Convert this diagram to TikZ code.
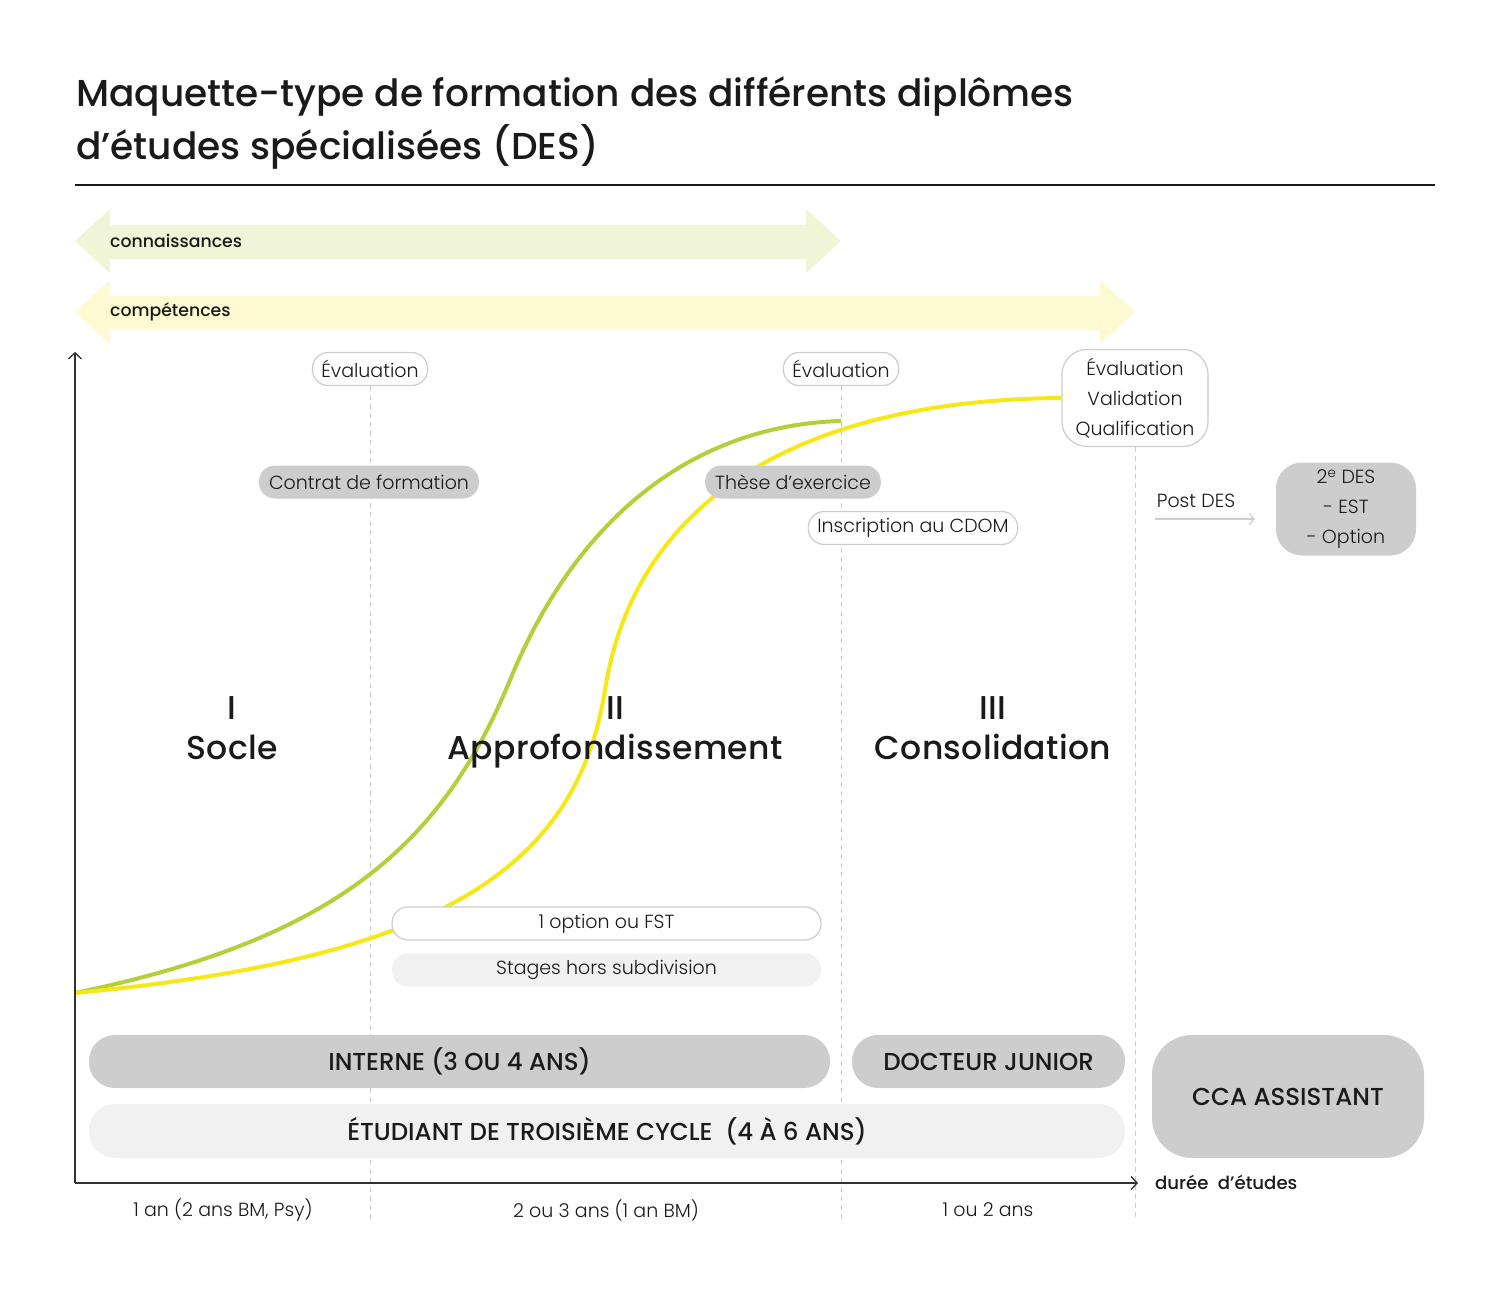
\documentclass[tikz,border=0pt]{standalone}
\usepackage{fontspec}
\setmainfont{Poppins Light}
\newfontfamily\medfont{Poppins Medium}
\newfontfamily\phasefont{Poppins Medium}[LetterSpace=1]
\usetikzlibrary{positioning,arrows.meta}
\definecolor{bandgreen}{RGB}{239,245,214}
\definecolor{bandyellow}{RGB}{253,249,208}
\definecolor{curvegreen}{RGB}{181,206,58}
\definecolor{curveyellow}{RGB}{246,232,22}
\definecolor{boxgray}{RGB}{205,205,205}
\definecolor{boxlight}{RGB}{241,241,241}
\definecolor{linegray}{RGB}{205,205,205}
\definecolor{ink}{RGB}{26,26,26}

\begin{document}
\begin{tikzpicture}[x=1pt,y=-1pt,
	txt/.style={text=ink, inner sep=0pt, font=\fontsize{19}{19}\selectfont},
	pill/.style={draw=linegray, line width=1.2pt, fill=white, rounded corners=16pt, minimum height=33pt, inner xsep=9pt, text=ink, font=\fontsize{19}{19}\selectfont},
	graypill/.style={fill=boxgray, rounded corners=16pt, minimum height=33pt, inner xsep=10pt, text=ink, font=\fontsize{19}{19}\selectfont},
	bigbox/.style={fill=boxgray, rounded corners=26pt, minimum height=53pt, text=ink, font=\medfont\fontsize{24.5}{24.5}\selectfont},
	phase/.style={anchor=base, text=ink, inner sep=0pt, font=\phasefont\fontsize{33}{33}\selectfont},
	guide/.style={linegray, line width=1pt, dash pattern=on 5pt off 4pt},
	axis/.style={ink!90, line width=1.3pt, -{Straight Barb[length=6pt, width=13pt]}},
	curve/.style={line width=4pt}]
	\useasboundingbox (0,0) rectangle (1510,1300);
	
	\node[txt, anchor=base west, font=\medfont\fontsize{37.5}{37.5}\selectfont] (title1) at (76,107) {Maquette-type de formation des différents diplômes};
	\node[txt, anchor=base west, font=\medfont\fontsize{37.5}{37.5}\selectfont] (title2) at (76,160) {d’études spécialisées (DES)};
	\draw[ink, line width=1.5pt] (75,185) -- (1435,185);
	
	\fill[bandgreen] (75,241) -- (110,209) -- (110,225) -- (806,225) -- (806,209) -- (841,241) -- (806,273) -- (806,259) -- (110,259) -- (110,273) -- cycle;
	\fill[bandyellow] (75,312) -- (110,280) -- (110,296) -- (1100,296) -- (1100,280) -- (1135,312) -- (1100,344) -- (1100,330) -- (110,330) -- (110,344) -- cycle;
	\node[txt, anchor=west, font=\medfont\fontsize{17.3}{17.3}\selectfont] (know) at (110,241) {connaissances};
	\node[txt, anchor=west, font=\medfont\fontsize{17.3}{17.3}\selectfont] (skill) at (110,312) {compétences};
	
	\node[pill] (eval1) at (370,369) {Évaluation};
	\node[pill] (eval2) at (841,369) {Évaluation};
	\node[pill, rounded corners=25pt, minimum width=146pt, minimum height=97pt, align=center, font=\fontsize{19}{30}\selectfont] (fin) at (1135,398) {Évaluation\\Validation\\Qualification};
	
	\coordinate (b1) at (370,1220);
	\coordinate (b2) at (841,1220);
	\coordinate (b3) at (1135,1220);
	\draw[guide] (eval1.south) -- (b1);
	\draw[guide] (eval2.south) -- (b2);
	\draw[guide] (fin.south) -- (b3);
	
	\coordinate (start) at (75,993);
	\coordinate (gend) at (841,421);
	\draw[curve, curvegreen] (start) .. controls (330,940) and (440,850) .. (510,680) .. controls (580,510) and (700,425) .. (gend);
	\draw[curve, curveyellow] (start) .. controls (420,960) and (575,880) .. (605,690) .. controls (635,500) and (800,400) .. (fin.west);
	
	\node[graypill] (contrat) at (369,482) {Contrat de formation};
	\node[graypill] (these) at (793,482) {Thèse d’exercice};
	\node[pill] (cdom) at (913,528) {Inscription au CDOM};
	
	\node[txt] (post) at (1196,501) {Post DES};
	\coordinate (pa) at (1155,519);
	\coordinate (pb) at (1255,519);
	\draw[linegray, line width=1.2pt, -{Straight Barb[length=5pt, width=11pt]}] (pa) -- (pb);
	\node[graypill, rounded corners=26pt, minimum width=140pt, minimum height=93pt, align=center, font=\fontsize{19}{30}\selectfont] (second) at (1346,509) {2\textsuperscript{e} DES\\- EST\\- Option};
	
	\node[phase] (n1) at (232,719) {I};
	\node[phase] (socle) at (232,759) {Socle};
	\node[phase] (n2) at (615,719) {II};
	\node[phase] (appro) at (615,759) {Approfondissement};
	\node[phase] (n3) at (993,719) {III};
	\node[phase] (conso) at (993,759) {Consolidation};
	
	\node[pill, minimum width=429pt] (option) at (606.5,923.5) {1 option ou FST};
	\node[graypill, fill=boxlight, minimum width=429pt] (stages) at (606.5,970) {Stages hors subdivision};
	
	\node[bigbox, minimum width=741pt] (interne) at (459.5,1061.5) {INTERNE (3 OU 4 ANS)};
	\node[bigbox, minimum width=273pt] (junior) at (988.5,1061.5) {DOCTEUR JUNIOR};
	\node[bigbox, fill=boxlight, minimum width=1036pt, minimum height=54pt] (etudiant) at (607,1131) {ÉTUDIANT DE TROISIÈME CYCLE\ \ (4 À 6 ANS)};
	\node[bigbox, rounded corners=40pt, minimum width=272pt, minimum height=123pt] (cca) at (1288,1096.5) {CCA ASSISTANT};
	
	\coordinate (o) at (75,1183);
	\coordinate (ytop) at (75,352);
	\coordinate (xend) at (1138,1183);
	\draw[axis] (o) -- (ytop);
	\draw[axis] (o) -- (xend);
	\node[txt, anchor=west, font=\medfont\fontsize{18.1}{18.1}\selectfont] (duree) at (1155,1182) {durée\ \ d’études};
	
	\node[txt] (an1) at (223,1210) {1 an (2 ans BM, Psy)};
	\node[txt] (an2) at (606,1210) {2 ou 3 ans (1 an BM)};
	\node[txt] (an3) at (988,1210) {1 ou 2 ans};
\end{tikzpicture}
\end{document}
